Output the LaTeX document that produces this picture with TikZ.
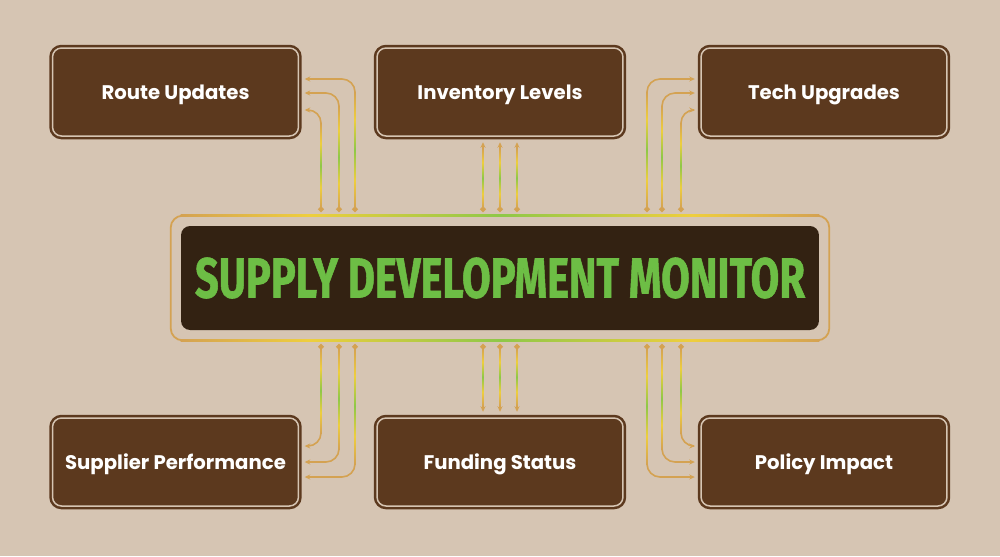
\documentclass[tikz,border=0pt]{standalone}
\usepackage{graphicx}
\usepackage{fontspec}
\usepackage{tikz}
\usetikzlibrary{arrows.meta,positioning,calc}
\newfontfamily\labelfont{Poppins}
\newfontfamily\titlefont[FakeBold=1.2]{Fira Sans}
\definecolor{pagebg}{RGB}{214,197,179}
\definecolor{boxbrown}{RGB}{92,57,30}
\definecolor{monfill}{RGB}{51,34,18}
\definecolor{titlegreen}{RGB}{109,190,69}
\definecolor{wiregold}{RGB}{212,162,82}
\definecolor{wireyellow}{RGB}{238,206,62}
\definecolor{wiregreen}{RGB}{142,200,72}
\pgfdeclareverticalshading{wirefade}{100bp}{color(0bp)=(wiregold); color(25bp)=(wiregold); color(37bp)=(wireyellow); color(50bp)=(wiregreen); color(63bp)=(wireyellow); color(75bp)=(wiregold); color(100bp)=(wiregold)}
\pgfdeclarehorizontalshading{edgefade}{100bp}{color(0bp)=(wiregold); color(25bp)=(wiregold); color(35bp)=(wireyellow); color(50bp)=(wiregreen); color(65bp)=(wireyellow); color(75bp)=(wiregold); color(100bp)=(wiregold)}
\tikzset{
  topic/.style={draw=boxbrown, double=pagebg, double distance=0.03cm, line width=0.05cm,
    fill=boxbrown, rounded corners=0.18cm, minimum width=4.92cm, minimum height=1.76cm,
    text=white, text depth=0pt, font=\labelfont\bfseries\fontsize{11.2}{13}\selectfont},
  monitor/.style={fill=monfill, rounded corners=0.18cm, minimum width=12.76cm,
    minimum height=2.08cm, text=titlegreen},
  wire/.style={draw=wiregold, line width=0.032cm, rounded corners=0.26cm, shorten >=0.1cm,
    {Circle[length=0.11cm]}-{Stealth[length=0.11cm,width=0.1cm]}},
}
\begin{document}
\begin{tikzpicture}[x=0.02cm, y=-0.02cm]
\useasboundingbox[fill=pagebg] (0,0) rectangle (1000,556);
% Topic boxes
\node[topic] (route) at (175.5,92) {Route Updates};
\node[topic] (stock) at (500,92) {Inventory Levels};
\node[topic] (tech) at (824,92) {Tech Upgrades};
\node[topic] (supplier) at (175.5,462) {Supplier Performance};
\node[topic] (fund) at (500,462) {Funding Status};
\node[topic] (policy) at (824,462) {Policy Impact};
% Central monitor
\node[monitor] (mon) at (500,278)
  {\resizebox{12.2cm}{0.8cm}{\titlefont\bfseries SUPPLY DEVELOPMENT MONITOR}};
\draw[wiregold, line width=0.036cm, rounded corners=0.24cm]
  ($(mon.north west)+(-10,-10)$) rectangle ($(mon.south east)+(10,10)$);
\shade[shading=edgefade] ($(mon.north west)+(0,-11)$) rectangle ($(mon.north east)+(0,-9)$);
\shade[shading=edgefade] ($(mon.south west)+(0,9)$) rectangle ($(mon.south east)+(0,11)$);
% Wires up
\foreach \wx/\wy in {321/110, 339/93, 355/79}{
  \draw[wire] (\wx,212) |- (route.east |- 0,\wy);
  \shade[shading=wirefade] (\wx-0.8,208) rectangle (\wx+0.8,\wy+13);
}
\foreach \wx/\wy in {681/110, 662/93, 647/79}{
  \draw[wire] (\wx,212) |- (tech.west |- 0,\wy);
  \shade[shading=wirefade] (\wx-0.8,208) rectangle (\wx+0.8,\wy+13);
}
\foreach \wx in {483,500,517}{
  \draw[wire] (\wx,212) -- (\wx,0 |- stock.south);
  \shade[shading=wirefade] (\wx-0.8,208) rectangle (\wx+0.8,148);
}
% Wires down
\foreach \wx/\wy in {321/446, 339/462, 355/477}{
  \draw[wire] (\wx,344) |- (supplier.east |- 0,\wy);
  \shade[shading=wirefade] (\wx-0.8,348) rectangle (\wx+0.8,\wy-13);
}
\foreach \wx/\wy in {681/446, 662/462, 647/477}{
  \draw[wire] (\wx,344) |- (policy.west |- 0,\wy);
  \shade[shading=wirefade] (\wx-0.8,348) rectangle (\wx+0.8,\wy-13);
}
\foreach \wx in {483,500,517}{
  \draw[wire] (\wx,344) -- (\wx,0 |- fund.north);
  \shade[shading=wirefade] (\wx-0.8,348) rectangle (\wx+0.8,406);
}
\end{tikzpicture}
\end{document}
